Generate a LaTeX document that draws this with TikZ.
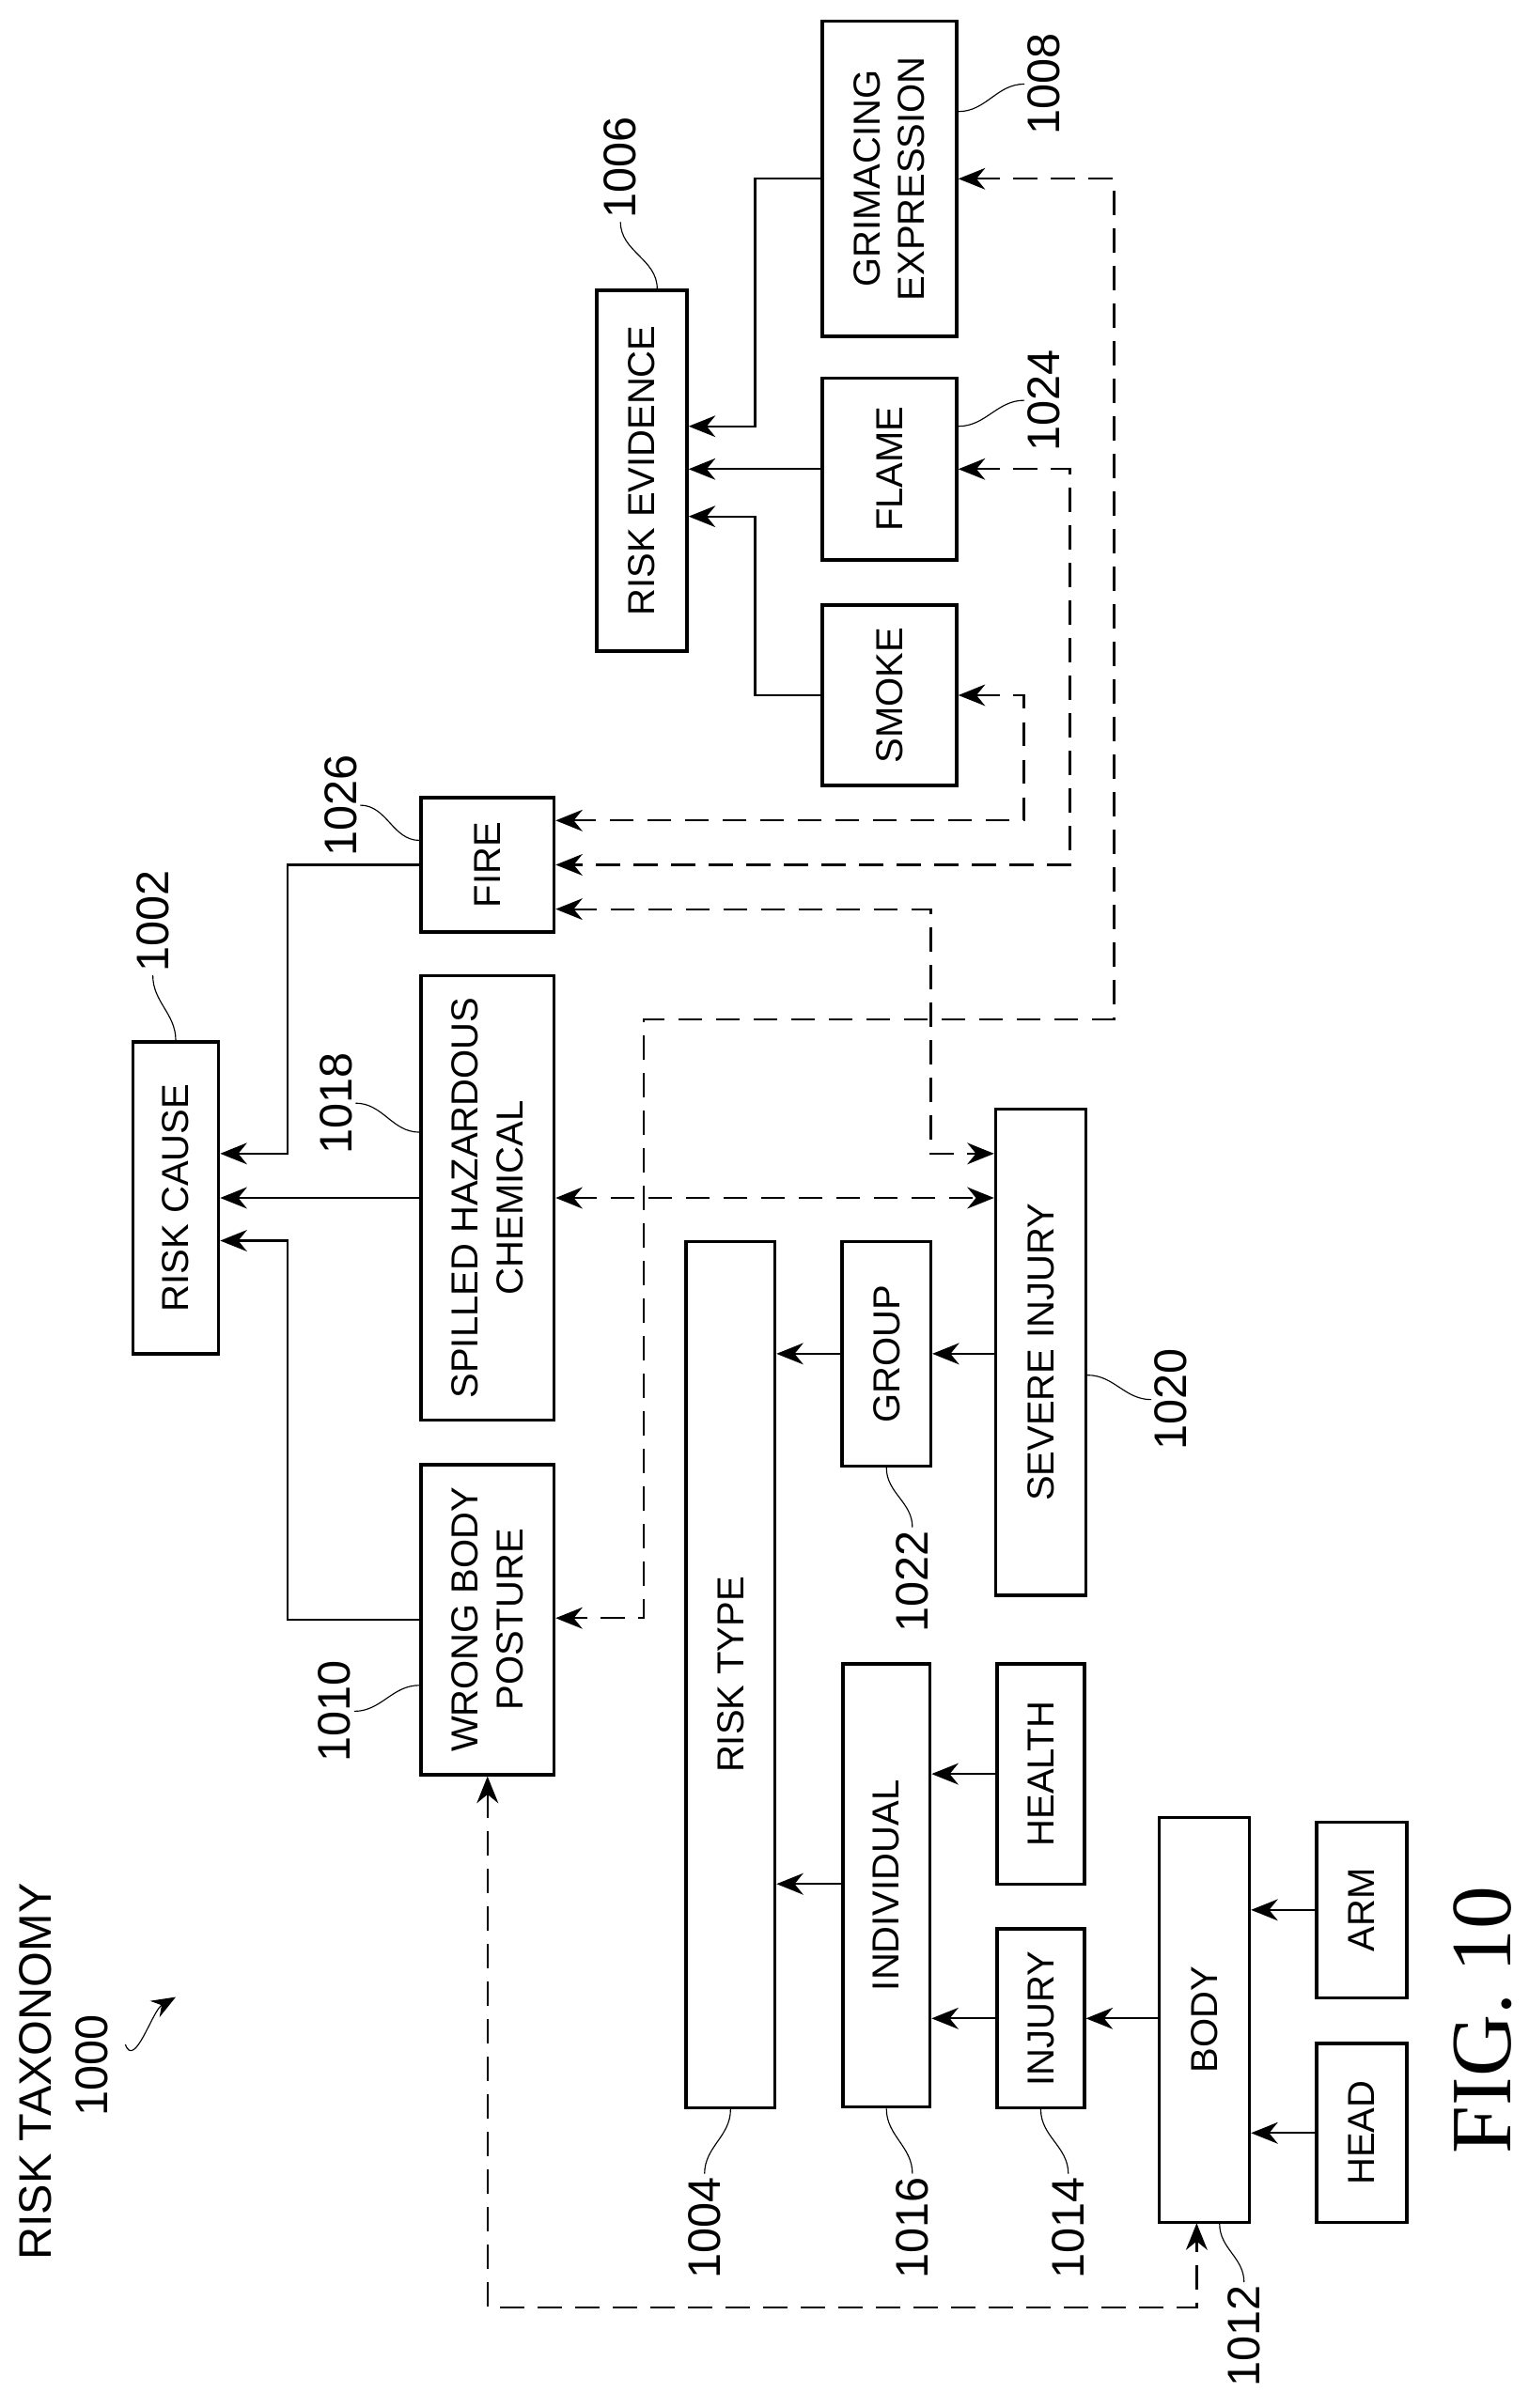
\documentclass[tikz,border=0pt]{standalone}
\usepackage{fontspec}
\setmainfont{Liberation Sans}
\newfontfamily\figfont{Liberation Serif}
\usetikzlibrary{arrows.meta,positioning,calc}
\newdimen\px \px=0.02cm
\tikzset{
  box/.style={draw, very thick, rotate=90, align=center, inner sep=0pt, font=\fontsize{14}{16.5}\selectfont},
  num/.style={rotate=90, inner sep=1pt},
  arr/.style={thick, -{Stealth[length=10pt,width=8pt]}},
  darr/.style={thick, dash pattern=on 9pt off 5pt, {Stealth[length=10pt,width=8pt]}-{Stealth[length=10pt,width=8pt]}},
  lead/.style={thin}
}
\begin{document}
\begin{tikzpicture}[x=0.02cm, y=-0.02cm, font=\fontsize{17}{20}\selectfont]
  \useasboundingbox (0,0) rectangle (1000,1576);

  % risk cause branch
  \node[box, minimum width=204\px, minimum height=56\px] (cause) at (115,784) {RISK CAUSE};
  \node[box, minimum width=88\px, minimum height=87\px] (fire) at (319,566) {FIRE};
  \node[box, minimum width=291\px, minimum height=87\px] (spill) at (319,784) {SPILLED HAZARDOUS\\CHEMICAL};
  \node[box, minimum width=203\px, minimum height=87\px] (wrong) at (319,1060) {WRONG BODY\\POSTURE};

  % risk evidence branch
  \node[box, minimum width=236\px, minimum height=59\px] (evid) at (420,308) {RISK EVIDENCE};
  \node[box, minimum width=206\px, minimum height=88\px] (grim) at (582,117) {GRIMACING\\EXPRESSION};
  \node[box, minimum width=119\px, minimum height=88\px] (flame) at (582,307) {FLAME};
  \node[box, minimum width=118\px, minimum height=88\px] (smoke) at (582,455) {SMOKE};

  % risk type branch
  \node[box, minimum width=567\px, minimum height=58\px] (rtype) at (478,1096) {RISK TYPE};
  \node[box, minimum width=147\px, minimum height=58\px] (group) at (580,886) {GROUP};
  \node[box, minimum width=318\px, minimum height=59\px] (severe) at (681,885) {SEVERE INJURY};
  \node[box, minimum width=290\px, minimum height=57\px] (indiv) at (580,1234) {INDIVIDUAL};
  \node[box, minimum width=144\px, minimum height=57\px] (health) at (681,1161) {HEALTH};
  \node[box, minimum width=117\px, minimum height=57\px] (injury) at (681,1321) {INJURY};
  \node[box, minimum width=265\px, minimum height=59\px] (body) at (788,1322) {BODY};
  \node[box, minimum width=115\px, minimum height=59\px] (arm) at (891,1250) {ARM};
  \node[box, minimum width=117\px, minimum height=59\px] (head) at (891,1396) {HEAD};

  % solid connectors
  \draw[arr] (fire.north) -| (188,755) -- (cause.south |- 0,755);
  \draw[arr] (spill.north) -- (cause.south |- spill.north);
  \draw[arr] (wrong.north) -| (188,812) -- (cause.south |- 0,812);
  \draw[arr] (grim.north) -| (494,279) -- (evid.south |- 0,279);
  \draw[arr] (flame.north) -- (evid.south |- flame.north);
  \draw[arr] (smoke.north) -| (494,338) -- (evid.south |- 0,338);
  \draw[arr] (group.north) -- (rtype.south |- group.north);
  \draw[arr] (indiv.north |- 0,1233) -- (rtype.south |- 0,1233);
  \draw[arr] (severe.north |- group.south) -- (group.south);
  \draw[arr] (health.north) -- (indiv.south |- health.north);
  \draw[arr] (injury.north) -- (indiv.south |- injury.north);
  \draw[arr] (body.north |- injury.south) -- (injury.south);
  \draw[arr] (arm.north) -- (body.south |- arm.north);
  \draw[arr] (head.north) -- (body.south |- head.north);

  % dashed connectors
  \draw[darr] (smoke.south) -| (670,537) -- (fire.south |- 0,537);
  \draw[darr] (flame.south) -| (700,566) -- (fire.south);
  \draw[darr] (grim.south) -| (729,667) -| (421,1059) -- (wrong.south |- 0,1059);
  \draw[darr] (fire.south |- 0,595) -| (609,755) -- (severe.north |- 0,755);
  \draw[darr] (spill.south) -- (severe.north |- spill.south);
  \draw[darr] (wrong.west) |- (783,1510) -- (783,1455);

  % reference numerals
  \node[num] (n1002) at (100,603) {1002};
  \draw[lead] (n1002.west) to[out=-90,in=90] (cause.east);
  \node[num] (n1006) at (406,110) {1006};
  \draw[lead] (n1006.west) to[out=-90,in=90] ($(evid.east)+(10,0)$);
  \node[num] (n1008) at (683,55) {1008};
  \draw[lead] (n1008.north) to[out=180,in=0] (grim.south |- 0,73);
  \node[num] (n1024) at (683,262) {1024};
  \draw[lead] (n1024.north) to[out=180,in=0] (flame.south |- 0,279);
  \node[num] (n1026) at (223,527) {1026};
  \draw[lead] (n1026.south) to[out=0,in=180] (fire.north |- 0,550);
  \node[num] (n1018) at (220,722) {1018};
  \draw[lead] (n1018.south) to[out=0,in=180] (spill.north |- 0,741);
  \node[num] (n1010) at (219,1120) {1010};
  \draw[lead] (n1010.south) to[out=0,in=180] (wrong.north |- 0,1103);
  \node[num] (n1020) at (766,916) {1020};
  \draw[lead] (n1020.north) to[out=180,in=0] (severe.south |- 0,900);
  \node[num] (n1022) at (597,1035) {1022};
  \draw[lead] (n1022.east) to[out=90,in=-90] (group.west);
  \node[num] (n1004) at (461,1458) {1004};
  \draw[lead] (n1004.east) to[out=90,in=-90] (rtype.west);
  \node[num] (n1016) at (597,1458) {1016};
  \draw[lead] (n1016.east) to[out=90,in=-90] (indiv.west);
  \node[num] (n1014) at (699,1458) {1014};
  \draw[lead] (n1014.east) to[out=90,in=-90] (injury.west);
  \node[num] (n1012) at (814,1529) {1012};
  \draw[lead] (n1012.east) to[out=90,in=-90] ($(body.west)+(10,0)$);

  % title and figure label
  \node[num] (ttl) at (23,1356) {RISK TAXONOMY};
  \node[num] (n1000) at (60,1352) {1000};
  \draw[thin, -{Stealth[length=9pt,width=7pt]}] (82,1338) to[out=-70,in=210] (115,1307);
  \node[num, font=\figfont\fontsize{32}{36}\selectfont] (fig) at (970,1322) {FIG. 10};
\end{tikzpicture}
\end{document}
